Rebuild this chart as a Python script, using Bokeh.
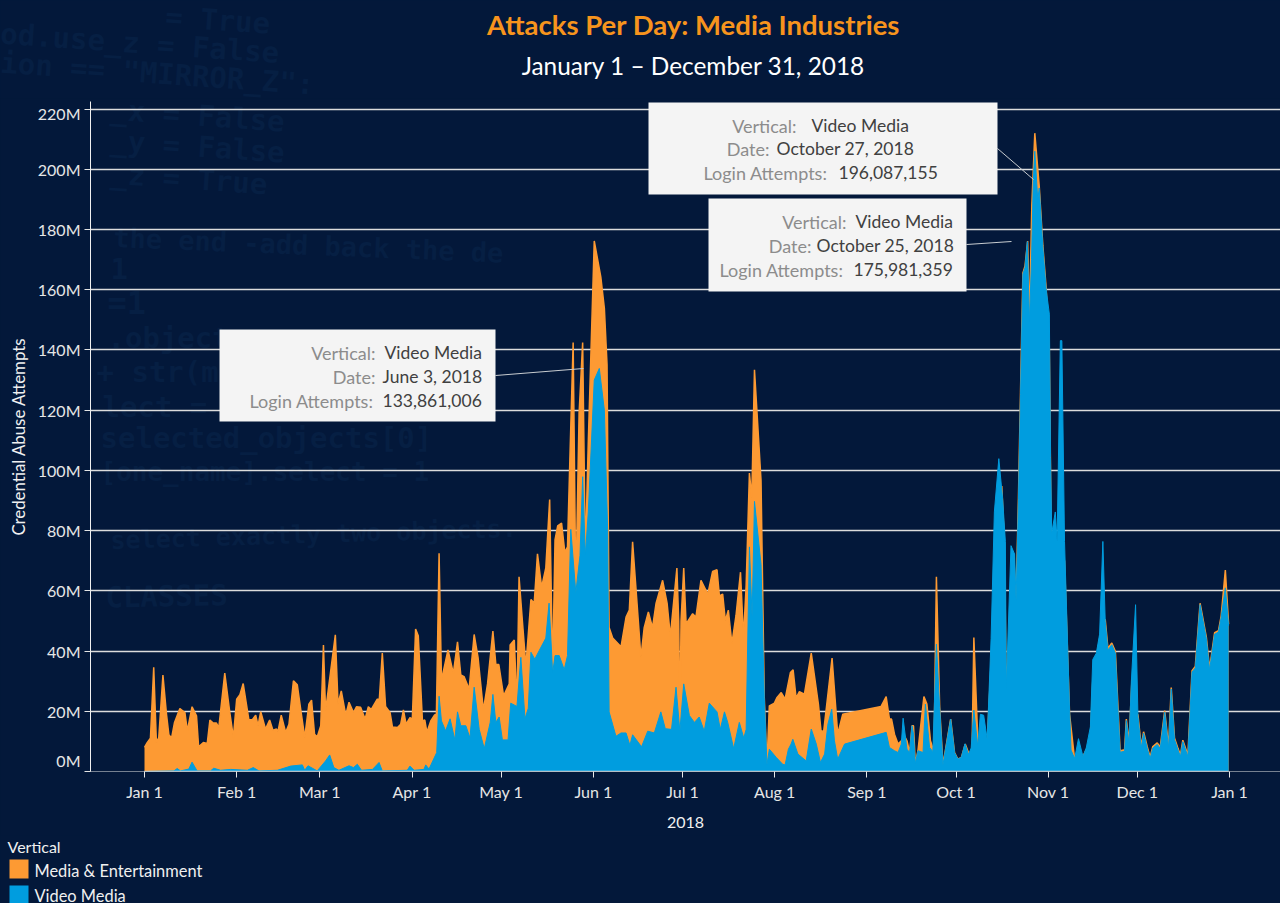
from bokeh.plotting import figure
from bokeh.layouts import column
from bokeh.models import Label, BoxAnnotation, FixedTicker, LinearAxis
from bokeh.embed import file_html
from bokeh.resources import INLINE

# ---------- data (days since Jan 1 2018, values in millions of login attempts) ----------
media_days = [0,0.9,2,3.1,4,4.8,6.2,7.4,8.2,9.1,10.1,11.9,13.6,14.4,16,17.5,18.2,19.8,21.1,22,23.1,24.2,25,27,28.7,29.9,31,32.1,33.2,35.1,36.3,37.4,38.2,39.1,40.7,42.1,43.2,44.4,44.9,46,47.5,48.6,50.1,51.4,52.7,53.9,55.3,56.2,57.2,58.1,59.3,60.2,60.9,61.5,64.2,65.1,66.2,67.7,68.8,70.3,71.3,72.7,74.2,75.3,76.3,78.3,79,80,81.1,82.6,83.4,85.1,86.2,87.1,88,89.3,90.1,91.2,92.1,93.5,94.3,95,96.3,97.6,98.2,99.1,99.9,102.1,
103.9,105.3,106.4,107.5,109.2,110.9,112.2,114,115.4,117.2,118.2,119.2,120.8,122.7,123,124.4,125.3,126,127.2,128.3,130,131.1,132.2,133.6,135,136.3,137.3,138.1,139,140.3,141.4,142.3,143.1,144.2,145.1,146.2,147.4,148.3,149.3,151.3,153.5,154.7,155.6,156.3,157.5,160.3,162,163.1,164.2,167,168.1,169.5,170.9,172.1,174.3,175.8,176.9,179.1,179.7,180.1,180.5,181.4,182.2,184.4,185.5,187.2,189.5,191.1,192.6,193.4,194.5,195.4,196.4,197.6,199,200.5,201.5,202.4,203.5,204.3,205.2,207.4,208.5,209.4,
210.2,211.9,212.8,214.2,215.5,217.3,218.2,219.2,220.3,222,224.3,226.7,227.6,228.5,231.3,233.2,234.9,247.8,249.5,250.6,251.3,252.3,253.5,254.6,255.7,256.5,257.4,258.2,258.7,259.3,260.2,262.2,263.2,264.4,265.6,266.4,267.5,268.6,270.3,271.2,272.5,273.6,274.8,276.1,277.6,278.4,279,280.4,
281.5,283.5,285,288.4,289.3,289.9,292.4,293.2,294,294.7,295.5,296.2,297.1,297.7,298.5,299.5,301,302.2,303.3,304.4,305,307,309.5,311.2,312.9,315.7,318.2,319,321.3,322.4,323.2,324.1,325.4,326.6,327.5,328.2,329.7,330.3,331.2,332.2,333.4,334.2,335.3,336.1,337.3,338.3,339.2,340.7,341.7,343.2,344.5,345.4,346.5,347.7,348.5,349.3,351,352.4,353.5,355.1,357.2,358.3,360,361.3,362.2,363.6,364.7]
media_values = [8,9.6,11.1,34.6,9.6,11.3,32,19,12.2,11.1,16.3,20.9,19.6,13.5,21.5,18.5,8.2,9.6,9.3,17.1,16.1,16.1,14.6,32.7,19.6,11.3,24,25.5,29.2,17.2,17.2,18.7,15.2,19.9,14.1,17.1,13.7,14.1,13.3,18.7,13,15.7,30.1,28.8,19.6,11.3,22.4,23.7,12.4,11.5,15.2,42,20.2,24.6,45.4,22.4,26.8,18.7,23,19.6,21.5,21.3,17.4,21.5,20.6,24,24,39.3,21.6,19.6,14.8,14.6,15.7,20.5,15.7,17.9,17.4,47.3,45.1,16.8,17.1,13,16.8,18.8,19,72.5,30.3,40.4,
32.6,43.1,32.1,31.5,27.4,45.5,37.9,20.4,29.1,46.6,35.5,35.5,25.1,29.1,42,43.7,21.6,64.7,49,35,57.1,55.9,72.3,61.2,67.6,90.3,32.6,76.9,81.6,82.5,72.8,74.6,103.7,142.5,59.4,118.9,142.5,71.7,109.6,176.2,164.3,153.8,135.2,47.8,44.3,41.4,51.3,53.6,76.3,37.9,47.8,53,47.8,55.9,63.5,55.9,44.9,67.6,50,13.4,50,67.6,49,52.4,51.3,63.5,58.9,66.4,67,58.3,58.9,50.1,53.6,42.5,51.9,66.2,44.3,61.8,99.1,90.9,133.4,96.7,24.5,2.3,
21.8,22.7,24.6,26.2,24,32.9,33.8,24.4,26.5,25.7,39.3,22.4,13.3,13.5,37.7,12.4,19,21.6,24.9,17.4,17.4,12.4,9.1,10.2,11.8,10.2,6.3,15.2,15.2,2.7,6.9,24.9,22.4,10.2,6.6,64.7,21.3,2.2,12.2,17.4,6.3,4.1,4.7,9.1,5.2,8,44.5,8.7,
12,10,40,94.8,75.7,27,72.2,57.4,90.8,126,165.6,167.8,176.2,149.5,188,212,194.3,174.8,160.8,140,78,75,70,19,4,5,10,30,44,50,50.5,40.9,42.7,39.9,21,6.9,7.2,17.4,9.7,30.9,20,18.8,8.3,13.2,8.3,4.8,8.3,9.5,8.1,20.2,8.3,27.9,11.1,7.6,5.5,10.4,5.5,33.5,34.9,55.9,44.7,34.2,46.1,46.8,51.7,66.9,48.9]

video_days = [0,9.9,11,12.1,14.9,16,17.7,22.2,23.3,25.6,29,34.6,36.6,38.5,44.7,49.2,53.1,53.9,55,58.1,60.9,62.3,63.7,65.4,68.8,70.3,71.6,73,76.7,78.9,80,88.4,89.3,90.7,94,94.6,95.7,98.3,99.1,99.9,101.3,102.8,104.4,105.3,106.4,108.1,109.5,110.9,112.6,114.3,116.3,117.2,118.2,119.3,120.4,122.3,123.2,125.3,126.6,128,129.1,130,131.3,132.8,135,136.1,137.3,138.1,139.5,141.2,142.3,143.4,145.1,146.5,147.4,148.3,149.3,151.3,153,154.7,155.8,156.3,158.6,160.3,162,163.3,164.2,167.2,169.3,171.5,173.7,175.2,177.3,178.8,180.1,181.4,183.3,185,186.6,188.3,190,192.6,193.7,195.1,196.2,198.2,200.1,201.6,202.4,203.5,204.4,205.2,207.4,208.5,209.4,
210.2,212.5,214.7,215.5,216.6,217.5,218.1,219.8,222.6,224.3,226,227.4,228.8,229.9,231.2,232.1,233.2,235.5,249.5,250.6,252.3,253.5,254.6,255.2,256.5,257.4,258.2,258.7,259.3,260.2,261.9,262.7,264.1,265.2,266.4,267.5,268.6,270.3,271.2,272.5,273.6,274.8,276,277.2,278.1,279,280.3,281.2,282.3,283.5,284.8,285.9,287.4,288.7,289.6,289.9,291.5,292.7,293.2,294,294.7,295.5,296.2,297,297.7,298.4,299,299.5,300.5,301,302.2,303.3,304.4,304.8,305.2,306.4,307,308.1,308.6,309.5,311.2,311.7,312.9,314.2,315.7,316.8,318.2,319,320.2,321.3,322.4,323.2,324.1,325.4,326.6,327.5,328.2,329.7,330.3,331.2,332,333.4,334.2,335.3,336.1,337.3,338.3,339.2,340.7,341.7,343.2,344.5,345.4,346.5,347.7,348.5,349.3,351,352.4,353.5,355.1,357.2,358.3,360,361.3,362.2,363.6,364.7]
video_values = [0,0.2,1,0.2,0.8,3.1,0.2,0.2,1.1,0.4,0.7,0.4,1.3,0.2,0.4,1.8,2.2,0.4,1.9,0.2,3.5,5.5,1.3,0.4,1.9,1.3,2.4,0.4,0.7,3,0.2,0.4,1.8,0.4,0.7,2.2,0.8,6.3,25,16.8,13.5,17.5,10.5,19.8,15.2,15.2,11.1,28,14,7.6,16.3,25.6,16.3,18.1,10.5,10.5,22.7,21.6,37.9,17.5,21,39.6,37.3,40.2,44.3,55.9,32.6,38.5,38.5,33.8,38.5,80.4,59.4,71.7,97.9,71.7,86.2,130,133.86,120,80.4,19.8,11.7,12.8,12.8,8.7,12.2,8.2,13.4,12.8,19.8,14.2,14,28,13.4,29.1,18.6,16.3,18.1,13.4,22.7,19.8,14,19.8,16.3,7.6,16.3,11.1,14,74.6,51.3,89.7,68.8,24.5,2.3,
7.4,4.7,2.4,2.2,7.4,9.1,10.7,5.8,3.5,14.1,9.1,3,5.8,15.7,20.7,10.2,4.1,9.1,13,8,6.9,6.3,9.1,17.7,7.4,6.3,15.2,12.4,2.7,6.9,6.3,22.4,8,6.6,42.3,21.3,2.2,12.2,17.4,6.3,4.1,4.7,9.2,5.7,7.8,20.4,8.5,19,18.7,10.6,44.2,86.2,103.9,90.3,76.4,27.4,75,72.2,56.8,90.3,125.3,165.2,167.3,175.98,149.1,170,196.09,206,190,193.8,174.3,160.3,151.9,104.3,79.2,86.2,76.4,143.1,143.1,76.4,20.4,7.1,4.3,10.9,5,7.8,14.8,37.2,39.3,45.6,76.4,49.8,40.3,42.1,39.3,20.4,6.4,6.7,16.9,9.2,30.2,55.4,18.3,7.8,12.7,7.8,4.3,7.8,9,7.6,19.7,7.8,27.4,10.6,7.1,5,9.9,5,33,34.4,55.4,44.2,33.7,45.6,46.3,51.2,61,48.4]

y_ticks = [0,20,40,60,80,100,120,140,160,180,200,220]
y_label_at = [3.6,20,40,60,80,100,120,140,160,180,200,218.4]
y_tick_labels = ["0M","20M","40M","60M","80M","100M","120M","140M","160M","180M","200M","220M"]
x_ticks = [0,31,59,90,120,151,181,212,243,273,304,334,365]
x_tick_labels = ["Jan 1","Feb 1","Mar 1","Apr 1","May 1","Jun 1","Jul 1","Aug 1","Sep 1","Oct 1","Nov 1","Dec 1","Jan 1"]
legend_names = ["Media & Entertainment","Video Media"]

ORANGE, BLUE, BG, CODE = "#fd9a33", "#009ddf", "#03183a", "#061f43"
FONT = "Lato"

X0, PX_DAY = 144.0, 2.9726
Y0, PX_M = 771.0, 3.011
F_L, F_R, F_T = 90, 1280, 101
W, TOP_H, MAIN_H, BOT_H = 1280, 98, 737, 68
def dx(px): return (px - X0) / PX_DAY
def vy(py): return (Y0 - py) / PX_M
def sx(px): return px - F_L
def sy(py): return Y0 - py

def strip(height, y_from):
    """A frame-only figure whose data coordinates are page pixels."""
    f = figure(width=W, height=height, output_backend="svg", toolbar_location=None,
               x_range=(0, W), y_range=(y_from + height, y_from),
               x_axis_location=None, y_axis_location=None, min_border=0, frame_align=False,
               background_fill_color=BG, border_fill_color=BG, outline_line_color=None)
    f.grid.visible = False
    return f

def code(f, t, x, y, a, s, screen=False):
    xv, yv = (sx(x), sy(y)) if screen else (x, y)
    kw = dict(x_units="screen", y_units="screen") if screen else {}
    f.add_layout(Label(x=xv, y=yv, text=t, text_font="DejaVu Sans Mono", text_font_style="bold", text_font_size=f"{s}px",
                       text_color=CODE, text_baseline="middle", angle=a, level="underlay", **kw))

# ---------- title strip ----------
top = strip(TOP_H, 0)
code(top, "= True", 165, 16, -0.07, 29)
code(top, "od.use_z = False", 0, 33, -0.07, 29)
code(top, 'ion == "MIRROR_Z":', 0, 62, -0.07, 29)
top.add_layout(Label(x=693, y=24, text="Attacks Per Day: Media Industries", text_align="center", text_baseline="middle",
                     text_color="#f7941d", text_font=FONT, text_font_size="27.5px", text_font_style="bold"))
top.add_layout(Label(x=693, y=65, text="January 1 \u2013 December 31, 2018", text_align="center", text_baseline="middle",
                     text_color="#ffffff", text_font=FONT, text_font_size="24.4px"))

# ---------- main chart ----------
p = figure(width=W, height=MAIN_H, output_backend="svg", toolbar_location=None, frame_align=False,
           x_range=(dx(F_L), dx(F_R)), y_range=(vy(Y0), vy(F_T)),
           min_border_left=F_L, min_border_right=0, min_border_top=F_T-TOP_H, min_border_bottom=TOP_H+MAIN_H-771,
           background_fill_color=BG, border_fill_color=BG, outline_line_color=None)
p.xgrid.grid_line_color = None
p.ygrid.grid_line_color = "#dcdcdc"
p.ygrid.grid_line_width = 1.4

for t,x,y,a,s in [("_x = False",110,109,-0.07,29),("_y = False",110,140,-0.07,29),("_z = True",110,173,-0.07,29),
    ("the end -add back the de",113,237,-0.04,27),("1",110,268,0,29),("=1",107,302,0,32),(".objects.",107,337,0,29),
    ("+ str(mod",96,371,0,29),("lect = 0",102,406,0,29),("selected_objects[0]",100,437,0,29),("[one_name].select = 1",100,471,0,26),
    ("select exactly two objects.",110,540,0.03,25),("CLASSES",105,597,0.02,29)]:
    code(p, t, x, y, a, s, screen=True)
# backdrop text goes under the grid lines
p.center = [r for r in p.center if isinstance(r, Label)] + [r for r in p.center if not isinstance(r, Label)]

# areas (overlaid, orange behind)
p.varea(media_days, 0, media_values, fill_color=ORANGE)
p.line(media_days, media_values, line_color=ORANGE, line_width=1.5)
p.varea(video_days, 0, video_values, fill_color=BLUE)
p.line(video_days, video_values, line_color=BLUE, line_width=1)
p.segment(x_ticks[0], 0, video_days[-1], 0, line_color="#cfd6de", line_width=1.5)

# x axis
ax = p.xaxis[0]
ax.ticker = FixedTicker(ticks=x_ticks)
ax.major_label_overrides = dict(zip(x_ticks, x_tick_labels))
ax.axis_line_color = "#e8e8e8"; ax.axis_line_dash = "1 1"
ax.major_tick_line_color = "#e8e8e8"; ax.major_tick_in = 0; ax.major_tick_out = 6; ax.minor_tick_line_color = None
ax.major_label_text_color = "#e6e6e6"; ax.major_label_text_font = FONT; ax.major_label_text_font_size = "16px"; ax.major_label_standoff = 4
ax.axis_label = "2018"; ax.axis_label_text_color = "#f0f0f0"; ax.axis_label_text_font = FONT
ax.axis_label_text_font_style = "normal"; ax.axis_label_text_font_size = "16px"; ax.axis_label_standoff = 13

# y axis: inner one carries line and ticks, outer one the labels (the two end labels sit inside the range)
ay = p.yaxis[0]
ay.ticker = FixedTicker(ticks=y_ticks)
ay.major_label_overrides = {v: "" for v in y_ticks}
ay.major_label_standoff = 0
ay.axis_line_color = "#f0f0f0"; ay.axis_line_width = 1
ay.major_tick_line_color = "#e4e4e4"; ay.major_tick_in = 0; ay.major_tick_out = 6; ay.minor_tick_line_color = None

ay2 = LinearAxis(ticker=FixedTicker(ticks=y_label_at), major_label_overrides=dict(zip(y_label_at, y_tick_labels)))
ay2.axis_line_color = None; ay2.major_tick_line_color = None; ay2.minor_tick_line_color = None
ay2.major_tick_in = 0; ay2.major_tick_out = 0
ay2.major_label_text_color = "#e6e6e6"; ay2.major_label_text_font = FONT; ay2.major_label_text_font_size = "16px"; ay2.major_label_standoff = 4
ay2.axis_label = "Credential Abuse Attempts"; ay2.axis_label_text_color = "#f0f0f0"; ay2.axis_label_text_font = FONT
ay2.axis_label_text_font_style = "normal"; ay2.axis_label_text_font_size = "16.8px"; ay2.axis_label_standoff = 6
p.add_layout(ay2, "left")

def lab(t, x, y, align, color, size):
    p.add_layout(Label(x=sx(x), y=sy(y), x_units="screen", y_units="screen", text=t, text_align=align, text_baseline="middle",
                       text_color=color, text_font=FONT, text_font_size=size))

# callouts: (box l,t,r,b), leader, rows
GREY, DARK = "#8c8c8c", "#404040"
callouts = [
 ((219,329,495,421), (495,375,583,368), [("Vertical:",375,"Video Media",384,352),("Date:",375,"June 3, 2018",382,376),("Login Attempts:",373,"133,861,006",382,400)]),
 ((648,102,997,194), (997,148,1033,179), [("Vertical:",796,"Video Media",811,125),("Date:",769,"October 27, 2018",776,148),("Login Attempts:",827,"196,087,155",838,172)]),
 ((708,198,966,291), (966,244,1011,241), [("Vertical:",846,"Video Media",855,221),("Date:",811,"October 25, 2018",816,245),("Login Attempts:",843,"175,981,359",853,269)]),
]
for (l,t,r,b),(x1,y1,x2,y2),rows in callouts:
    p.add_layout(BoxAnnotation(left=dx(l), right=dx(r), top=vy(t), bottom=vy(b), fill_color="#f4f4f4", fill_alpha=1, line_alpha=0))
    p.segment(dx(x1), vy(y1), dx(x2), vy(y2), line_color="#c8ccd0", line_width=1)
    for k,kx,v,vx,y in rows:
        lab(k, kx, y, "right", GREY, "18px")
        lab(v, vx, y, "left", DARK, "17.5px")

# ---------- legend strip ----------
bot = strip(BOT_H, 835)
bot.add_layout(Label(x=7, y=846, text="Vertical", text_baseline="middle", text_color="#f0f0f0", text_font=FONT, text_font_size="16px"))
for name, col, t, b, ty in zip(legend_names, [ORANGE, BLUE], [859, 885], [878, 903], [870, 895]):
    bot.add_layout(BoxAnnotation(left=9, right=28, top=t, bottom=b, fill_color=col, fill_alpha=1, line_alpha=0))
    bot.add_layout(Label(x=34, y=ty, text=name, text_baseline="middle", text_color="#f0f0f0", text_font=FONT, text_font_size="16.4px"))

page = column(top, p, bot, spacing=0)
html = file_html(page, INLINE).replace("<head>", "<head><style>html,body{background:%s}</style>" % BG, 1)
open("out.html", "w").write(html)
